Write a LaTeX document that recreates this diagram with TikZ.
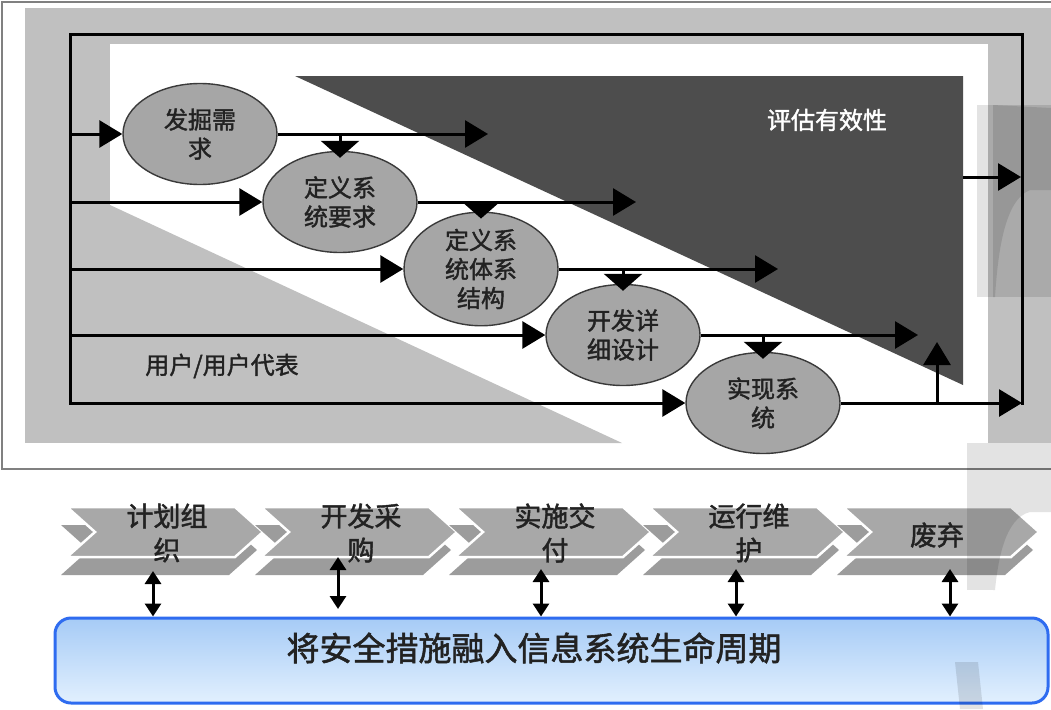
\documentclass[tikz,border=0pt]{standalone}
\usepackage{fontspec}
\newfontfamily\cjk[AutoFakeBold=1.6]{Noto Sans CJK SC}
\usetikzlibrary{arrows.meta,shapes.geometric}
\definecolor{lgray}{HTML}{C0C0C0}
\definecolor{dgray}{HTML}{4D4D4D}
\definecolor{ellfill}{HTML}{A6A6A6}
\definecolor{ellborder}{HTML}{3A3A3A}
\definecolor{txt}{HTML}{222222}
\definecolor{chfill}{HTML}{A8A8A8}
\definecolor{chshadow}{HTML}{9C9C9C}
\definecolor{boxline}{HTML}{2F6CF0}
\definecolor{boxtop}{HTML}{A6CBF6}
\definecolor{boxbot}{HTML}{E2F0FE}
\begin{document}
\begin{tikzpicture}[x=1pt,y=-1pt,
  ln/.style={line width=3pt, black},
  bigtip/.tip={Triangle[length=23pt,width=27pt]},
  downtip/.tip={Triangle[length=17pt,width=38pt]},
  smalltip/.tip={Triangle[length=13pt,width=16pt]},
  ell/.style={ellipse, draw=ellborder, fill=ellfill, line width=1.4pt,
    minimum width=154pt, minimum height=101pt, inner sep=0pt, align=center,
    font=\cjk\bfseries\fontsize{24}{29}\selectfont, text=txt},
  chtext/.style={align=center, font=\cjk\bfseries\fontsize{27}{34}\selectfont, text=txt},
  dbl/.style={line width=3pt, smalltip-smalltip},
  wm/.style={fill=black, opacity=0.11},
  chevron/.pic={
    \fill[chshadow] (-6,18) -- (162,18) -- (190,43) -- (162,68) -- (-6,68) -- (22,43) -- cycle;
    \filldraw[fill=chfill, draw=white, line width=2.5pt] (0,0) -- (168,0) -- (196,25) -- (168,50) -- (0,50) -- (28,25) -- cycle;
  }]
\useasboundingbox (0,0) rectangle (1051,709);
\fill[white] (0,0) rectangle (1051,709);
% outer frame
\draw[gray, line width=1.5pt] (2,2) rectangle (1060,469);
\fill[lgray] (25,8) rectangle (1051,443);
\fill[white] (110,44) rectangle (988,443);
\fill[lgray] (110,205) -- (622,443) -- (110,443) -- cycle;
\fill[dgray] (295,76) -- (963,76) -- (963,385) -- cycle;
\node[text=white, font=\cjk\bfseries\fontsize{24}{29}\selectfont] (eval) at (827,120) {评估有效性};
\node[text=txt, font=\cjk\bfseries\fontsize{24}{29}\selectfont] (user) at (222,366) {用户/用户代表};
% frame lines
\coordinate (TL) at (70,35);
\coordinate (TR) at (1022,35);
\coordinate (BL) at (70,403);
\coordinate (BR) at (1022,403);
\draw[ln, line cap=rect] (BL) -- (TL) -- (TR) -- (BR);
% ellipses
\node[ell] (E1) at (200,134) {发掘需\\求};
\node[ell] (E2) at (340,202) {定义系\\统要求};
\node[ell] (E3) at (481,269) {定义系\\统体系\\结构};
\node[ell] (E4) at (623,335) {开发详\\细设计};
\node[ell] (E5) at (763,403) {实现系\\统};
% incoming arrows from left line
\coordinate (L1) at (70,134);
\coordinate (L2) at (70,202);
\coordinate (L3) at (70,269);
\coordinate (L4) at (70,335);
\draw[ln,-bigtip] (L1) -- (E1.west);
\draw[ln,-bigtip] (L2) -- (E2.west);
\draw[ln,-bigtip] (L3) -- (E3.west);
\draw[ln,-bigtip] (L4) -- (E4.west);
\draw[ln,-bigtip] (BL) -- (E5.west);
% outgoing arrows
\coordinate (O1) at (488,134);
\coordinate (O2) at (636,202);
\coordinate (O3) at (778,269);
\coordinate (O4) at (918,335);
\draw[ln,-bigtip] (E1.east) -- (O1);
\draw[ln,-bigtip] (E2.east) -- (O2);
\draw[ln,-bigtip] (E3.east) -- (O3);
\draw[ln,-bigtip] (E4.east) -- (O4);
\draw[ln,-bigtip] (E5.east) -- (BR);
% down arrows
\coordinate (D1) at (E2.north |- E1.east);
\coordinate (D2) at (E3.north |- E2.east);
\coordinate (D3) at (E4.north |- E3.east);
\coordinate (D4) at (E5.north |- E4.east);
\draw[ln,-downtip,shorten >=-7pt] (D1) -- (E2.north);
\draw[ln,-downtip,shorten >=-7pt] (D2) -- (E3.north);
\draw[ln,-downtip,shorten >=-7pt] (D3) -- (E4.north);
\draw[ln,-downtip,shorten >=-7pt] (D4) -- (E5.north);
% up arrow and right arrow
\coordinate (U0) at (937,403);
\coordinate (U1) at (937,342);
\draw[ln,-bigtip] (U0) -- (U1);
\coordinate (R0) at (963,177);
\coordinate (R1) at (1021,177);
\draw[ln,-bigtip] (R0) -- (R1);
% chevrons
\pic at (67,507) {chevron};
\pic at (261,507) {chevron};
\pic at (455,507) {chevron};
\pic at (649,507) {chevron};
\pic at (843,507) {chevron};
\node[chtext] (C1) at (167,533) {计划组\\织};
\node[chtext] (C2) at (361,533) {开发采\\购};
\node[chtext] (C3) at (555,533) {实施交\\付};
\node[chtext] (C4) at (749,533) {运行维\\护};
\node[chtext] (C5) at (937,535) {废弃};
% bottom box
\node[draw=boxline, line width=3pt, rounded corners=16pt, top color=boxtop, bottom color=boxbot,
  minimum width=993pt, minimum height=85pt, inner sep=0pt] (box) at (551.5,660.5) {};
\node[text=txt, font=\cjk\bfseries\fontsize{33}{38}\selectfont] (boxtxt) at (534,648) {将安全措施融入信息系统生命周期};
% double arrows
\coordinate (A1) at (153,571);
\coordinate (A2) at (338,557);
\coordinate (A2b) at (338,609);
\coordinate (A3) at (541,569);
\coordinate (A4) at (736,569);
\coordinate (A5) at (950,569);
\draw[dbl] (A1) -- (A1 |- box.north);
\draw[dbl] (A2) -- (A2b);
\draw[dbl] (A3) -- (A3 |- box.north);
\draw[dbl] (A4) -- (A4 |- box.north);
\draw[dbl] (A5) -- (A5 |- box.north);
% watermark
\fill[wm] (977,105) rectangle (1051,297);
\fill[wm] (993,105) -- (1051,108) -- (1051,190) -- (1030,190) .. controls (1005,200) and (998,250) .. (995,297) -- (993,297) -- cycle;
\fill[wm] (967,443) rectangle (993,590);
\fill[wm] (993,443) -- (1051,443) -- (1051,512) -- (1030,512) .. controls (1005,518) and (998,560) .. (995,590) -- (993,590) -- cycle;
\fill[wm] (955,662) -- (978,662) -- (983,709) -- (960,709) -- cycle;
\end{tikzpicture}
\end{document}
